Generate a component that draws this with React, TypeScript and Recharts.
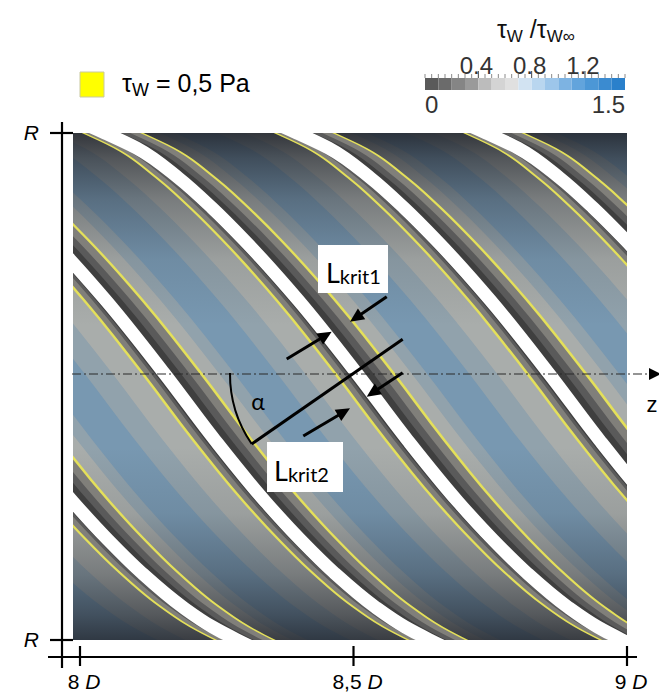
import React from 'react';
import {
  ComposedChart,
  BarChart,
  Bar,
  Area,
  Line,
  XAxis,
  YAxis,
  CartesianGrid,
  ReferenceLine,
  ReferenceArea,
  ReferenceDot,
} from 'recharts';

// ---------------- data ----------------
// centre line of one white band, from the lower wall up to the upper wall
// (r in units of R, z in units of D)
const profileR = [-1.0473, -1.0, -0.9487, -0.8698, -0.7357, -0.6055, -0.4556, -0.211, 0.0533, 0.3412, 0.5779, 0.7041, 0.8225, 0.9408, 1.0, 1.0789];
const profileZ = [9.0366, 8.9916, 8.9464, 8.8916, 8.817, 8.7554, 8.6914, 8.5985, 8.5055, 8.3987, 8.3, 8.2415, 8.1801, 8.1033, 8.0457, 7.9616];
// z offsets of the repeated bands (in D)
const stripeOffsets = [-0.704, -0.352, 0, 0.351, 0.697];

const zTicks = [8, 8.5, 9];
const zTickLabels = ['8', '8,5', '9'];
const rTicks = [-1, 1];

const cbEdges = [0, 0.1, 0.2, 0.3, 0.4, 0.5, 0.6, 0.7, 0.8, 0.9, 1.0, 1.1, 1.2, 1.3, 1.4, 1.5];
const cbColors = ['#5a5a5a', '#6b6b6b', '#858585', '#9a9a9a', '#bcbcbc', '#d4d4d4', '#e0e0e0', '#d2e3f2', '#b9d6ef', '#9dc6ea', '#7db3e2', '#62a4dc', '#4c97d6', '#3b8bd0', '#2a80cb'];
const cbMinor = [0, 0.05, 0.1, 0.15, 0.2, 0.25, 0.3, 0.35, 0.4, 0.45, 0.5, 0.55, 0.6, 0.65, 0.7, 0.75, 0.8, 0.85, 0.9, 0.95, 1.0, 1.05, 1.1, 1.15, 1.2, 1.25, 1.3, 1.35, 1.4, 1.45, 1.5];
const cbMajor = [0.4, 0.8, 1.2];
const cbMajorLabels = ['0.4', '0.8', '1.2'];
const cbEnds = [0, 1.5];
const cbEndLabels = ['0', '1.5'];

// ---------------- styles ----------------
const FONT = '"Liberation Sans", Arial, sans-serif';
const FONT2 = 'Lato, "Open Sans", sans-serif';
const Z_DOMAIN: [number, number] = [7.9872, 9.0];

// band edges relative to the white centre line (z-units), colours
const lowerBands = [
  { key: 'haloOuter', color: '#a9aba7', a: -0.146, b: 0.128, opacity: 0.5, z: 401 },
  { key: 'haloInner', color: '#bdb7ab', a: -0.095, b: 0.1, opacity: 0.55, z: 402 },
];
const upperBands = [
  { key: 'yellow', color: '#e4e05a', a: -0.0425, b: 0.0702, opacity: 1, z: 404 },
  { key: 'grey', color: '#807f7a', a: -0.0368, b: 0.0643, opacity: 1, z: 405 },
  { key: 'dark', color: '#5a5a5a', a: -0.0245, b: 0.046, opacity: 1, z: 406 },
  { key: 'darker', color: '#3f3f3f', a: -0.0178, b: 0.03, opacity: 1, z: 407 },
];

const bandData = (offset: number, a: number, b: number) =>
  profileZ.map((z, i) => ({ r: profileR[i], range: [z + offset + a, z + offset + b] }));
const centreData = (offset: number) => profileZ.map((z, i) => ({ r: profileR[i], z: z + offset }));

const cbRow = [
  cbColors.reduce((acc: any, _c, i) => {
    acc[`s${i}`] = +(cbEdges[i + 1] - cbEdges[i]).toFixed(3);
    return acc;
  }, { name: 'cb' }),
];

// ---------------- custom shapes ----------------
const arrowShape = (props: any) => {
  const x1 = Number(props.x1), y1 = Number(props.y1), x2 = Number(props.x2), y2 = Number(props.y2);
  const dx = x2 - x1, dy = y2 - y1;
  const len = Math.hypot(dx, dy) || 1;
  const ux = dx / len, uy = dy / len;
  const head = 14, half = 6.5;
  const bx = x2 - ux * head, by = y2 - uy * head;
  return (
    <g>
      <line x1={x1} y1={y1} x2={bx + ux * 2} y2={by + uy * 2} stroke="#000" strokeWidth={3} />
      <polygon points={`${x2},${y2} ${bx - uy * half},${by + ux * half} ${bx + uy * half},${by - ux * half}`} fill="#000" />
    </g>
  );
};

const plainLine = (props: any) => (
  <line x1={props.x1} y1={props.y1} x2={props.x2} y2={props.y2} stroke="#000" strokeWidth={3} />
);

const axisLine = (props: any) => (
  <line x1={props.x1} y1={props.y1} x2={props.x2} y2={props.y2} stroke="#000" strokeWidth={2.2} />
);

const dashDotShape = (props: any) => {
  const x1 = Number(props.x1), y1 = Number(props.y1), x2 = Number(props.x2), y2 = Number(props.y2);
  return (
    <g>
      <line x1={x1} y1={y1} x2={x2 - 10} y2={y2} stroke="#2a2a2a" strokeWidth={1.2} strokeDasharray="9 3 2 3" />
      <polygon points={`${x2},${y2} ${x2 - 12},${y2 - 6} ${x2 - 12},${y2 + 6}`} fill="#000" />
    </g>
  );
};

const arcShape = (props: any) => {
  const x1 = Number(props.x1), y1 = Number(props.y1), x2 = Number(props.x2), y2 = Number(props.y2);
  return <path d={`M ${x1} ${y1} A 124 124 0 0 0 ${x2} ${y2}`} fill="none" stroke="#000" strokeWidth={2} />;
};

const textShape = (content: React.ReactNode, opts: any = {}) => (props: any) => (
  <text
    x={props.cx}
    y={props.cy}
    fontFamily={opts.fontFamily || FONT}
    fontSize={opts.fontSize || 22}
    textAnchor={opts.anchor || 'start'}
    fill={opts.fill || '#000'}
  >
    {content}
  </text>
);

const ZTick = (props: any) => {
  const { x, y, payload } = props;
  const i = zTicks.indexOf(payload.value);
  return (
    <g>
      <line x1={x} x2={x} y1={y + 6} y2={y + 26} stroke="#000" strokeWidth={2.2} />
      <text x={x + 4} y={y + 49} textAnchor="middle" fontFamily={FONT} fontSize={21} fill="#000">
        {zTickLabels[i] + ' '}
        <tspan fontStyle="italic">D</tspan>
      </text>
    </g>
  );
};

// ticks of the colour bar: minor marks above, major labels above, end labels below the bar
const CbTopTick = (props: any) => {
  const { x, y, payload } = props;
  const mi = cbMajor.indexOf(payload.value);
  const ei = cbEnds.indexOf(payload.value);
  return (
    <g>
      <line x1={x} x2={x} y1={y} y2={y - (mi >= 0 ? 7 : 4)} stroke={mi >= 0 ? '#444' : '#8a8a8a'} strokeWidth={1} />
      {mi >= 0 && (
        <text x={x - 2} y={y - 4} textAnchor="middle" fontFamily={FONT} fontSize={24} fill="#333">
          {cbMajorLabels[mi]}
        </text>
      )}
      {ei >= 0 && (
        <text x={x} y={y + 35} textAnchor={ei === 0 ? 'start' : 'end'} fontFamily={FONT} fontSize={24} fill="#333">
          {cbEndLabels[ei]}
        </text>
      )}
    </g>
  );
};

const renderBands = (bands: typeof lowerBands) =>
  bands.map((band) =>
    stripeOffsets.map((off, si) => (
      <Area
        key={`${band.key}-${si}`}
        data={bandData(off, band.a, band.b)}
        dataKey="range"
        type="monotone"
        stroke="none"
        fill={band.color}
        fillOpacity={band.opacity}
        dot={false}
        activeDot={false}
        legendType="none"
        isAnimationActive={false}
        zIndex={band.z}
      />
    ))
  );

export default function App() {
  return (
    <div style={{ position: 'absolute', left: 0, top: 0, width: 659, height: 695, background: '#fff' }}>
      <div style={{ position: 'absolute', left: 0, top: 0 }}>
        <ComposedChart layout="vertical" width={659} height={695} margin={{ top: 133, right: 32, bottom: 0, left: 0 }}>
          <defs>
            <linearGradient id="shadeGrad" x1="0" y1="0" x2="0" y2="1">
              <stop offset="0" stopColor="#1e2128" stopOpacity={0.85} />
              <stop offset="0.05" stopColor="#1e2128" stopOpacity={0.62} />
              <stop offset="0.13" stopColor="#1e2128" stopOpacity={0.35} />
              <stop offset="0.25" stopColor="#1e2128" stopOpacity={0.1} />
              <stop offset="0.38" stopColor="#1e2128" stopOpacity={0} />
              <stop offset="0.62" stopColor="#1e2128" stopOpacity={0} />
              <stop offset="0.75" stopColor="#1e2128" stopOpacity={0.1} />
              <stop offset="0.87" stopColor="#1e2128" stopOpacity={0.35} />
              <stop offset="0.95" stopColor="#1e2128" stopOpacity={0.6} />
              <stop offset="1" stopColor="#1e2128" stopOpacity={0.8} />
            </linearGradient>
          </defs>
          <CartesianGrid horizontal={false} vertical={false} fill="#7898b1" fillOpacity={1} />
          <XAxis
            type="number"
            domain={Z_DOMAIN}
            allowDataOverflow
            ticks={zTicks}
            interval={0}
            height={55}
            axisLine={false}
            tickLine={false}
            tickSize={0}
            tickMargin={0}
            tick={ZTick}
          />
          <YAxis
            type="number"
            dataKey="r"
            domain={[-1, 1]}
            reversed
            allowDataOverflow
            ticks={rTicks}
            interval={0}
            width={73}
            axisLine={false}
            tickLine={{ stroke: '#000', strokeWidth: 2.2 }}
            tickSize={23}
            tickMargin={11}
            tickFormatter={() => 'R'}
            tick={{ fontFamily: FONT, fontSize: 21, fontStyle: 'italic', fill: '#000' }}
          />

          {renderBands(lowerBands)}

          <ReferenceArea
            x1={Z_DOMAIN[0]}
            x2={Z_DOMAIN[1]}
            y1={-1}
            y2={1}
            fill="url(#shadeGrad)"
            fillOpacity={1}
            stroke="none"
            ifOverflow="hidden"
            zIndex={403}
          />

          {renderBands(upperBands)}

          {stripeOffsets.map((off, si) => (
            <Line
              key={`white-${si}`}
              data={centreData(off)}
              dataKey="z"
              type="monotone"
              stroke="#ffffff"
              strokeWidth={13}
              dot={false}
              activeDot={false}
              legendType="none"
              isAnimationActive={false}
              zIndex={408}
            />
          ))}

          {/* axes frame */}
          <ReferenceLine segment={[{ x: 7.9671, y: 1.0434 }, { x: 7.9671, y: -1.1105 }]} ifOverflow="visible" shape={axisLine} zIndex={600} />
          <ReferenceLine segment={[{ x: 7.9415, y: -1.0671 }, { x: 9.0183, y: -1.0671 }]} ifOverflow="visible" shape={axisLine} zIndex={600} />

          {/* z axis (dash-dot) */}
          <ReferenceLine segment={[{ x: 7.9854, y: 0.0493 }, { x: 9.0622, y: 0.0493 }]} ifOverflow="visible" shape={dashDotShape} zIndex={600} />
          <ReferenceDot x={9.0457} y={-0.1006} r={0} ifOverflow="visible" shape={textShape('z', { anchor: 'middle', fontSize: 22 })} zIndex={620} />

          {/* L_krit annotation */}
          <ReferenceLine segment={[{ x: 8.3139, y: -0.2268 }, { x: 8.5899, y: 0.1862 }]} ifOverflow="visible" shape={plainLine} zIndex={600} />
          <ReferenceLine segment={[{ x: 8.3779, y: 0.1085 }, { x: 8.4601, y: 0.2162 }]} ifOverflow="visible" shape={arrowShape} zIndex={600} />
          <ReferenceLine segment={[{ x: 8.5607, y: 0.3542 }, { x: 8.4936, y: 0.2556 }]} ifOverflow="visible" shape={arrowShape} zIndex={600} />
          <ReferenceLine segment={[{ x: 8.5899, y: 0.0544 }, { x: 8.5241, y: -0.0402 }]} ifOverflow="visible" shape={arrowShape} zIndex={600} />
          <ReferenceLine segment={[{ x: 8.4082, y: -0.1953 }, { x: 8.4936, y: -0.086 }]} ifOverflow="visible" shape={arrowShape} zIndex={600} />
          <ReferenceLine segment={[{ x: 8.2742, y: 0.0533 }, { x: 8.3139, y: -0.2268 }]} ifOverflow="visible" shape={arcShape} zIndex={600} />
          <ReferenceDot x={8.3254} y={-0.0927} r={0} ifOverflow="visible" shape={textShape('α', { anchor: 'middle', fontSize: 23, fontFamily: FONT2 })} zIndex={620} />

          <ReferenceArea x1={8.4351} x2={8.5631} y1={0.3688} y2={0.5582} fill="#ffffff" fillOpacity={1} stroke="none" ifOverflow="visible" zIndex={610} />
          <ReferenceDot
            x={8.4497}
            y={0.4083}
            r={0}
            ifOverflow="visible"
            shape={textShape(
              <>
                <tspan fontSize={27}>L</tspan>
                <tspan fontSize={20} dy={1}>krit1</tspan>
              </>,
              { fontFamily: FONT2 }
            )}
            zIndex={620}
          />
          <ReferenceArea x1={8.3419} x2={8.4808} y1={-0.4162} y2={-0.2189} fill="#ffffff" fillOpacity={1} stroke="none" ifOverflow="visible" zIndex={610} />
          <ReferenceDot
            x={8.3547}
            y={-0.3728}
            r={0}
            ifOverflow="visible"
            shape={textShape(
              <>
                <tspan fontSize={27}>L</tspan>
                <tspan fontSize={20} dy={1}>krit2</tspan>
              </>,
              { fontFamily: FONT2 }
            )}
            zIndex={620}
          />

          {/* legend */}
          <ReferenceArea x1={8.0} x2={8.0439} y1={1.142} y2={1.2406} fill="#ffff00" fillOpacity={1} stroke="#c9c9a0" strokeWidth={1} ifOverflow="visible" zIndex={610} />
          <ReferenceDot
            x={8.077}
            y={1.1617}
            r={0}
            ifOverflow="visible"
            shape={textShape(
              <>
                <tspan fontSize={25}>τ</tspan>
                <tspan fontSize={18} dy={4}>W</tspan>
                <tspan fontSize={25} dy={-4}>{' = 0,5 Pa'}</tspan>
              </>
            )}
            zIndex={620}
          />

          {/* colour-bar title */}
          <ReferenceDot
            x={8.7623}
            y={1.3748}
            r={0}
            ifOverflow="visible"
            shape={textShape(
              <>
                <tspan fontSize={25}>τ</tspan>
                <tspan fontSize={17} dy={4}>W</tspan>
                <tspan fontSize={25} dy={-4}>{' /τ'}</tspan>
                <tspan fontSize={17} dy={4}>W∞</tspan>
              </>,
              { fill: '#111' }
            )}
            zIndex={620}
          />
        </ComposedChart>
      </div>

      {/* colour bar */}
      <div style={{ position: 'absolute', left: 0, top: 0, pointerEvents: 'none' }}>
        <BarChart
          layout="vertical"
          width={659}
          height={125}
          data={cbRow}
          margin={{ top: 53, right: 34, bottom: 35, left: 425 }}
          barCategoryGap={0}
          barGap={0}
        >
          <XAxis
            xAxisId="top"
            orientation="top"
            type="number"
            domain={[0, 1.5]}
            ticks={cbMinor}
            interval={0}
            height={25}
            axisLine={false}
            tickLine={false}
            tickSize={0}
            tickMargin={0}
            tick={CbTopTick}
          />
          <YAxis type="category" dataKey="name" hide />
          {cbColors.map((c, i) => (
            <Bar key={`cb-${i}`} xAxisId="top" dataKey={`s${i}`} stackId="cb" fill={c} isAnimationActive={false} />
          ))}
        </BarChart>
      </div>
    </div>
  );
}
